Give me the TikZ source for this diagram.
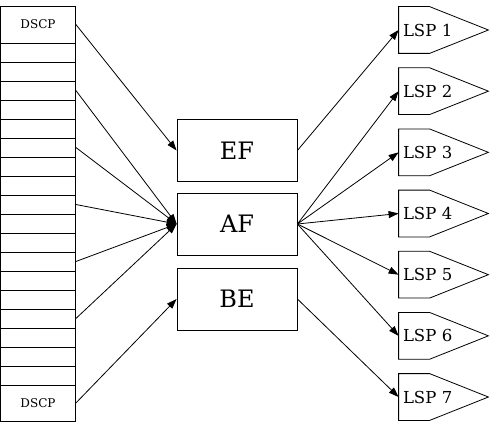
\documentclass[tikz,border=0pt]{standalone}
\usepackage{fontspec}
\setmainfont{DejaVu Serif}
\usetikzlibrary{arrows.meta}
\begin{document}
\begin{tikzpicture}[x=1pt,y=-1pt,line width=0.8pt,
  cell/.style={rectangle,draw,minimum width=75pt,minimum height=19pt,inner sep=0pt,font=\fontsize{12}{14}\selectfont},
  queue/.style={rectangle,draw,minimum width=120pt,minimum height=62pt,font=\fontsize{24}{27}\selectfont},
  lsp/.style={rectangle,minimum height=46pt,inner sep=4pt,text width=81pt,align=left,font=\fontsize{16.5}{18}\selectfont},
  link/.style={-{Triangle[length=10pt,width=7pt]}}]
\useasboundingbox (0,0) rectangle (496,428);
% DSCP column
\node[cell,minimum height=37pt] (r0) at (38,24.5) {DSCP};
\foreach \i in {1,...,18}
  \node[cell] (r\i) at (38,{33.5+19*\i}) {};
\node[cell,minimum height=36pt] (r19) at (38,403) {DSCP};
% classes
\node[queue] (ef) at (237,150.5) {EF};
\node[queue] (af) at (237,224) {AF};
\node[queue] (be) at (237,299) {BE};
% LSPs
\foreach \k in {1,...,7}{
  \node[lsp] (lsp\k) at (443.5,{30+61.17*(\k-1)}) {LSP \k};
  \draw (lsp\k.north west) -- ++(31,0) -- (lsp\k.east) -- ([xshift=31pt]lsp\k.south west) -- (lsp\k.south west) -- cycle;
}
\draw[link] (r0.east) -- (ef.west);
\foreach \i in {3,6,9,12,15}
  \draw[link] (r\i.east) -- (af.west);
\draw[link] (r19.east) -- (be.west);
\draw[link] (ef.east) -- (lsp1.west);
\foreach \k in {2,...,6}
  \draw[link] (af.east) -- (lsp\k.west);
\draw[link] (be.east) -- (lsp7.west);
\end{tikzpicture}
\end{document}
